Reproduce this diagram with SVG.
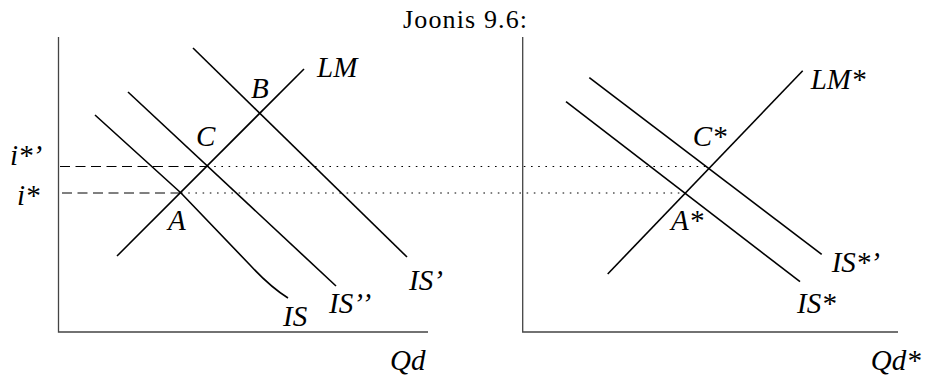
<svg xmlns="http://www.w3.org/2000/svg" width="925" height="376" viewBox="0 0 925 376">
<style>
.ax{stroke:#444;stroke-width:1.3;fill:none}
.cv{stroke:#000;stroke-width:1.6;fill:none;stroke-linecap:butt}
.dash{stroke:#000;stroke-width:1;stroke-dasharray:10 5.5;fill:none}
.dot{stroke:#000;stroke-width:1;stroke-dasharray:1.6 5.6;fill:none}
.lb{font-family:"Liberation Serif","Times New Roman",serif;font-style:italic;font-size:29px;fill:#000}
.tt{font-family:"Liberation Serif","Times New Roman",serif;font-size:26px;fill:#000}
</style>
<rect width="925" height="376" fill="#fff"/>
<text class="tt" x="403" y="28" textLength="124">Joonis 9.6:</text>
<g id="axes">
<path class="ax" d="M58.5,37 V332 H428"/>
<path class="ax" d="M522.7,37 V332 H898"/>
</g>
<g id="guides">
<path class="dash" d="M60,166.5 H207"/>
<path class="dot" d="M207,166.5 H710"/>
<path class="dash" d="M62,193 H181"/>
<path class="dot" d="M181,193 H685"/>
</g>
<g id="LM"><path class="cv" d="M117,256 L304,69"/><text class="lb" x="317" y="77">LM</text></g>
<g id="IS1"><path class="cv" d="M193,48 L407,257"/><text class="lb" x="409" y="290">IS’</text></g>
<g id="IS2"><path class="cv" d="M128,92 L336,286"/><text class="lb" x="329" y="313">IS’<tspan dx="2">’</tspan></text></g>
<g id="IS"><path class="cv" d="M95,115 L181,193 L250,265 C262,278 272,288 288,298"/><text class="lb" x="283" y="326">IS</text></g>
<g id="labelsL">
<text class="lb" x="10" y="165">i*’</text>
<text class="lb" x="17" y="205">i*</text>
<text class="lb" x="251" y="98">B</text>
<text class="lb" x="196" y="146">C</text>
<text class="lb" x="168" y="230">A</text>
<text class="lb" x="390" y="370">Qd</text>
</g>
<g id="LMstar"><path class="cv" d="M607.7,274 L802.7,70.7"/><text class="lb" x="810.7" y="89">LM*</text></g>
<g id="ISstar1"><path class="cv" d="M589.3,77.7 L821.7,254.3"/><text class="lb" x="831.7" y="271.7">IS*’</text></g>
<g id="ISstar"><path class="cv" d="M566,101.7 L800,281.7"/><text class="lb" x="797" y="313">IS*</text></g>
<g id="labelsR">
<text class="lb" x="692.7" y="146">C*</text>
<text class="lb" x="671" y="230">A*</text>
<text class="lb" x="870.7" y="370">Qd*</text>
</g>
</svg>
